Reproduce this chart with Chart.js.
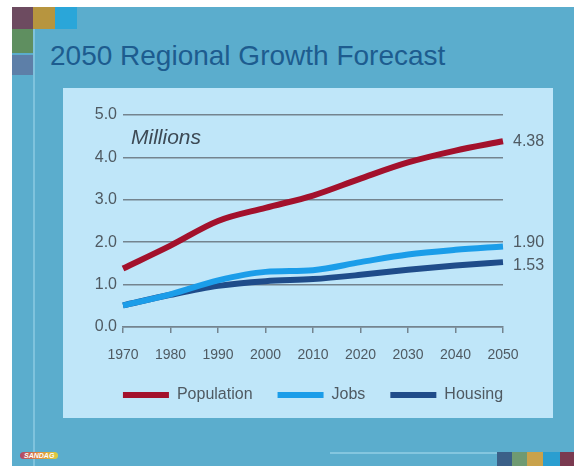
<!DOCTYPE html>
<html>
<head>
<meta charset="utf-8">
<script src="https://cdn.jsdelivr.net/npm/chart.js@4"></script>
<style>
  html, body { margin: 0; padding: 0; background: #ffffff; }
  body { width: 574px; height: 466px; position: relative; overflow: hidden; font-family: 'Liberation Sans', Arial, sans-serif; }
  #slide { position: absolute; left: 12px; top: 7px; width: 562px; height: 459px; background: #5badcd; }
  .sq { position: absolute; }
  #titulo { position: absolute; left: 50px; top: 40px; font-size: 28px; color: #1d5c8f; white-space: nowrap; }
  #panel { position: absolute; left: 63px; top: 88px; width: 490px; height: 330px; background: #bfe6f9; }
  #lienzo { position: absolute; left: 63px; top: 88px; }
  #logo { position: absolute; left: 20px; top: 452px; font-size: 7px; font-weight: bold; font-style: italic; color: #fff;
          background: linear-gradient(90deg, #b0456a, #e08a3a, #d8d040); padding: 0 4px; border-radius: 4px; }
</style>
</head>
<body>
<div id="slide"></div>
<!-- cuadros decorativos -->
<div class="sq" style="left:12px;top:7px;width:21px;height:22px;background:#6d4b60"></div>
<div class="sq" style="left:33px;top:7px;width:22px;height:22px;background:#b7953f"></div>
<div class="sq" style="left:55px;top:7px;width:22px;height:22px;background:#2aa6d9"></div>
<div class="sq" style="left:12px;top:29px;width:21px;height:24px;background:#5f8f60"></div>
<div class="sq" style="left:12px;top:55px;width:21px;height:20px;background:#5d7fa8"></div>
<div class="sq" style="left:33px;top:29px;width:2px;height:437px;background:#7fc3dd"></div>
<div class="sq" style="left:330px;top:452px;width:167px;height:2px;background:#84c6df"></div>
<div class="sq" style="left:497px;top:452px;width:15px;height:14px;background:#3b6088"></div>
<div class="sq" style="left:512px;top:452px;width:15px;height:14px;background:#6f9a72"></div>
<div class="sq" style="left:527px;top:452px;width:16px;height:14px;background:#c9a24b"></div>
<div class="sq" style="left:543px;top:452px;width:17px;height:14px;background:#2a9ed0"></div>
<div class="sq" style="left:560px;top:452px;width:14px;height:14px;background:#7a3a50"></div>
<div id="logo">SANDAG</div>

<div id="titulo">2050 Regional Growth Forecast</div>
<div id="panel"></div>
<canvas id="lienzo" width="490" height="330"></canvas>

<script>
// --- DATOS ---
const anios = ['1970', '1980', '1990', '2000', '2010', '2020', '2030', '2040', '2050'];
const poblacion = [1.38, 1.92, 2.50, 2.81, 3.10, 3.50, 3.88, 4.16, 4.38];
const empleos = [0.51, 0.77, 1.10, 1.30, 1.34, 1.53, 1.71, 1.82, 1.90];
const viviendas = [0.51, 0.76, 0.97, 1.08, 1.13, 1.23, 1.35, 1.45, 1.53];
const etiquetasFinales = ['4.38', '1.90', '1.53'];
const ticksY = [0, 1, 2, 3, 4, 5];

const colorGris = '#74848f';
const colorTexto = '#4f5a62';
const fuente = '"Liberation Sans", Arial, sans-serif';

// etiquetas al final de cada serie + "Millions"
const pluginEtiquetas = {
  id: 'etiquetasFinales',
  afterDatasetsDraw(chart) {
    const ctx = chart.ctx;
    const area = chart.chartArea;
    ctx.save();
    ctx.font = 'italic 21px ' + fuente;
    ctx.fillStyle = '#3d4a55';
    ctx.textBaseline = 'alphabetic';
    ctx.fillText('Millions', area.left + 8, area.top + 29);

    ctx.font = '16px ' + fuente;
    ctx.fillStyle = colorTexto;
    ctx.textBaseline = 'middle';
    const desfase = [0, -4, 3];
    chart.data.datasets.forEach((ds, i) => {
      const meta = chart.getDatasetMeta(i);
      const ultimo = meta.data[meta.data.length - 1];
      ctx.fillText(etiquetasFinales[i], ultimo.x + 10, ultimo.y + desfase[i]);
    });
    ctx.restore();
  }
};

// centrar la leyenda sobre el panel, no sobre el lienzo recortado
const pluginLeyenda = {
  id: 'moverLeyenda',
  afterLayout(chart) {
    const lg = chart.legend;
    if (!lg) return;
    const centro = (lg.left + lg.right) / 2;
    const mover = 250 - centro;
    lg.left += mover;
    lg.right += mover;
  }
};

const crearSerie = (label, data, color) => ({
  label: label,
  data: data,
  borderColor: color,
  backgroundColor: color,
  borderWidth: 6,
  pointRadius: 0,
  tension: 0.4,
  cubicInterpolationMode: 'monotone',
  fill: false
});

const ctx = document.getElementById('lienzo').getContext('2d');
new Chart(ctx, {
  type: 'line',
  data: {
    labels: anios,
    datasets: [
      crearSerie('Population', poblacion, '#a3112c'),
      crearSerie('Jobs', empleos, '#1b9de9'),
      crearSerie('Housing', viviendas, '#1f4c8a')
    ]
  },
  options: {
    responsive: false,
    animation: false,
    layout: { padding: { left: 0, right: 50, top: 27, bottom: 5 } },
    plugins: {
      tooltip: { enabled: false },
      legend: {
        position: 'bottom',
        labels: {
          boxWidth: 46,
          boxHeight: 6,
          padding: 25,
          color: colorTexto,
          font: { family: fuente, size: 16 },
          generateLabels(chart) {
            const items = Chart.defaults.plugins.legend.labels.generateLabels(chart);
            items.forEach(it => { it.lineWidth = 0; });
            return items;
          }
        }
      }
    },
    scales: {
      x: {
        offset: false,
        grid: { drawOnChartArea: false, drawTicks: true, tickLength: 6, color: colorGris, lineWidth: 1.5 },
        border: { display: true, color: colorGris, width: 1.5 },
        ticks: { color: colorTexto, padding: 14, maxRotation: 0, font: { family: fuente, size: 14 } },
        afterFit(scale) { scale.height = 35; }
      },
      y: {
        min: 0,
        max: 5,
        afterBuildTicks(scale) { scale.ticks = ticksY.map(v => ({ value: v })); },
        grid: { color: colorGris, lineWidth: 1.5, drawTicks: false },
        border: { display: false },
        ticks: {
          color: colorTexto,
          padding: 6,
          font: { family: fuente, size: 16 },
          callback: v => v.toFixed(1)
        },
        afterFit(scale) { scale.width = 60; }
      }
    }
  },
  plugins: [pluginEtiquetas, pluginLeyenda]
});
</script>
</body>
</html>
